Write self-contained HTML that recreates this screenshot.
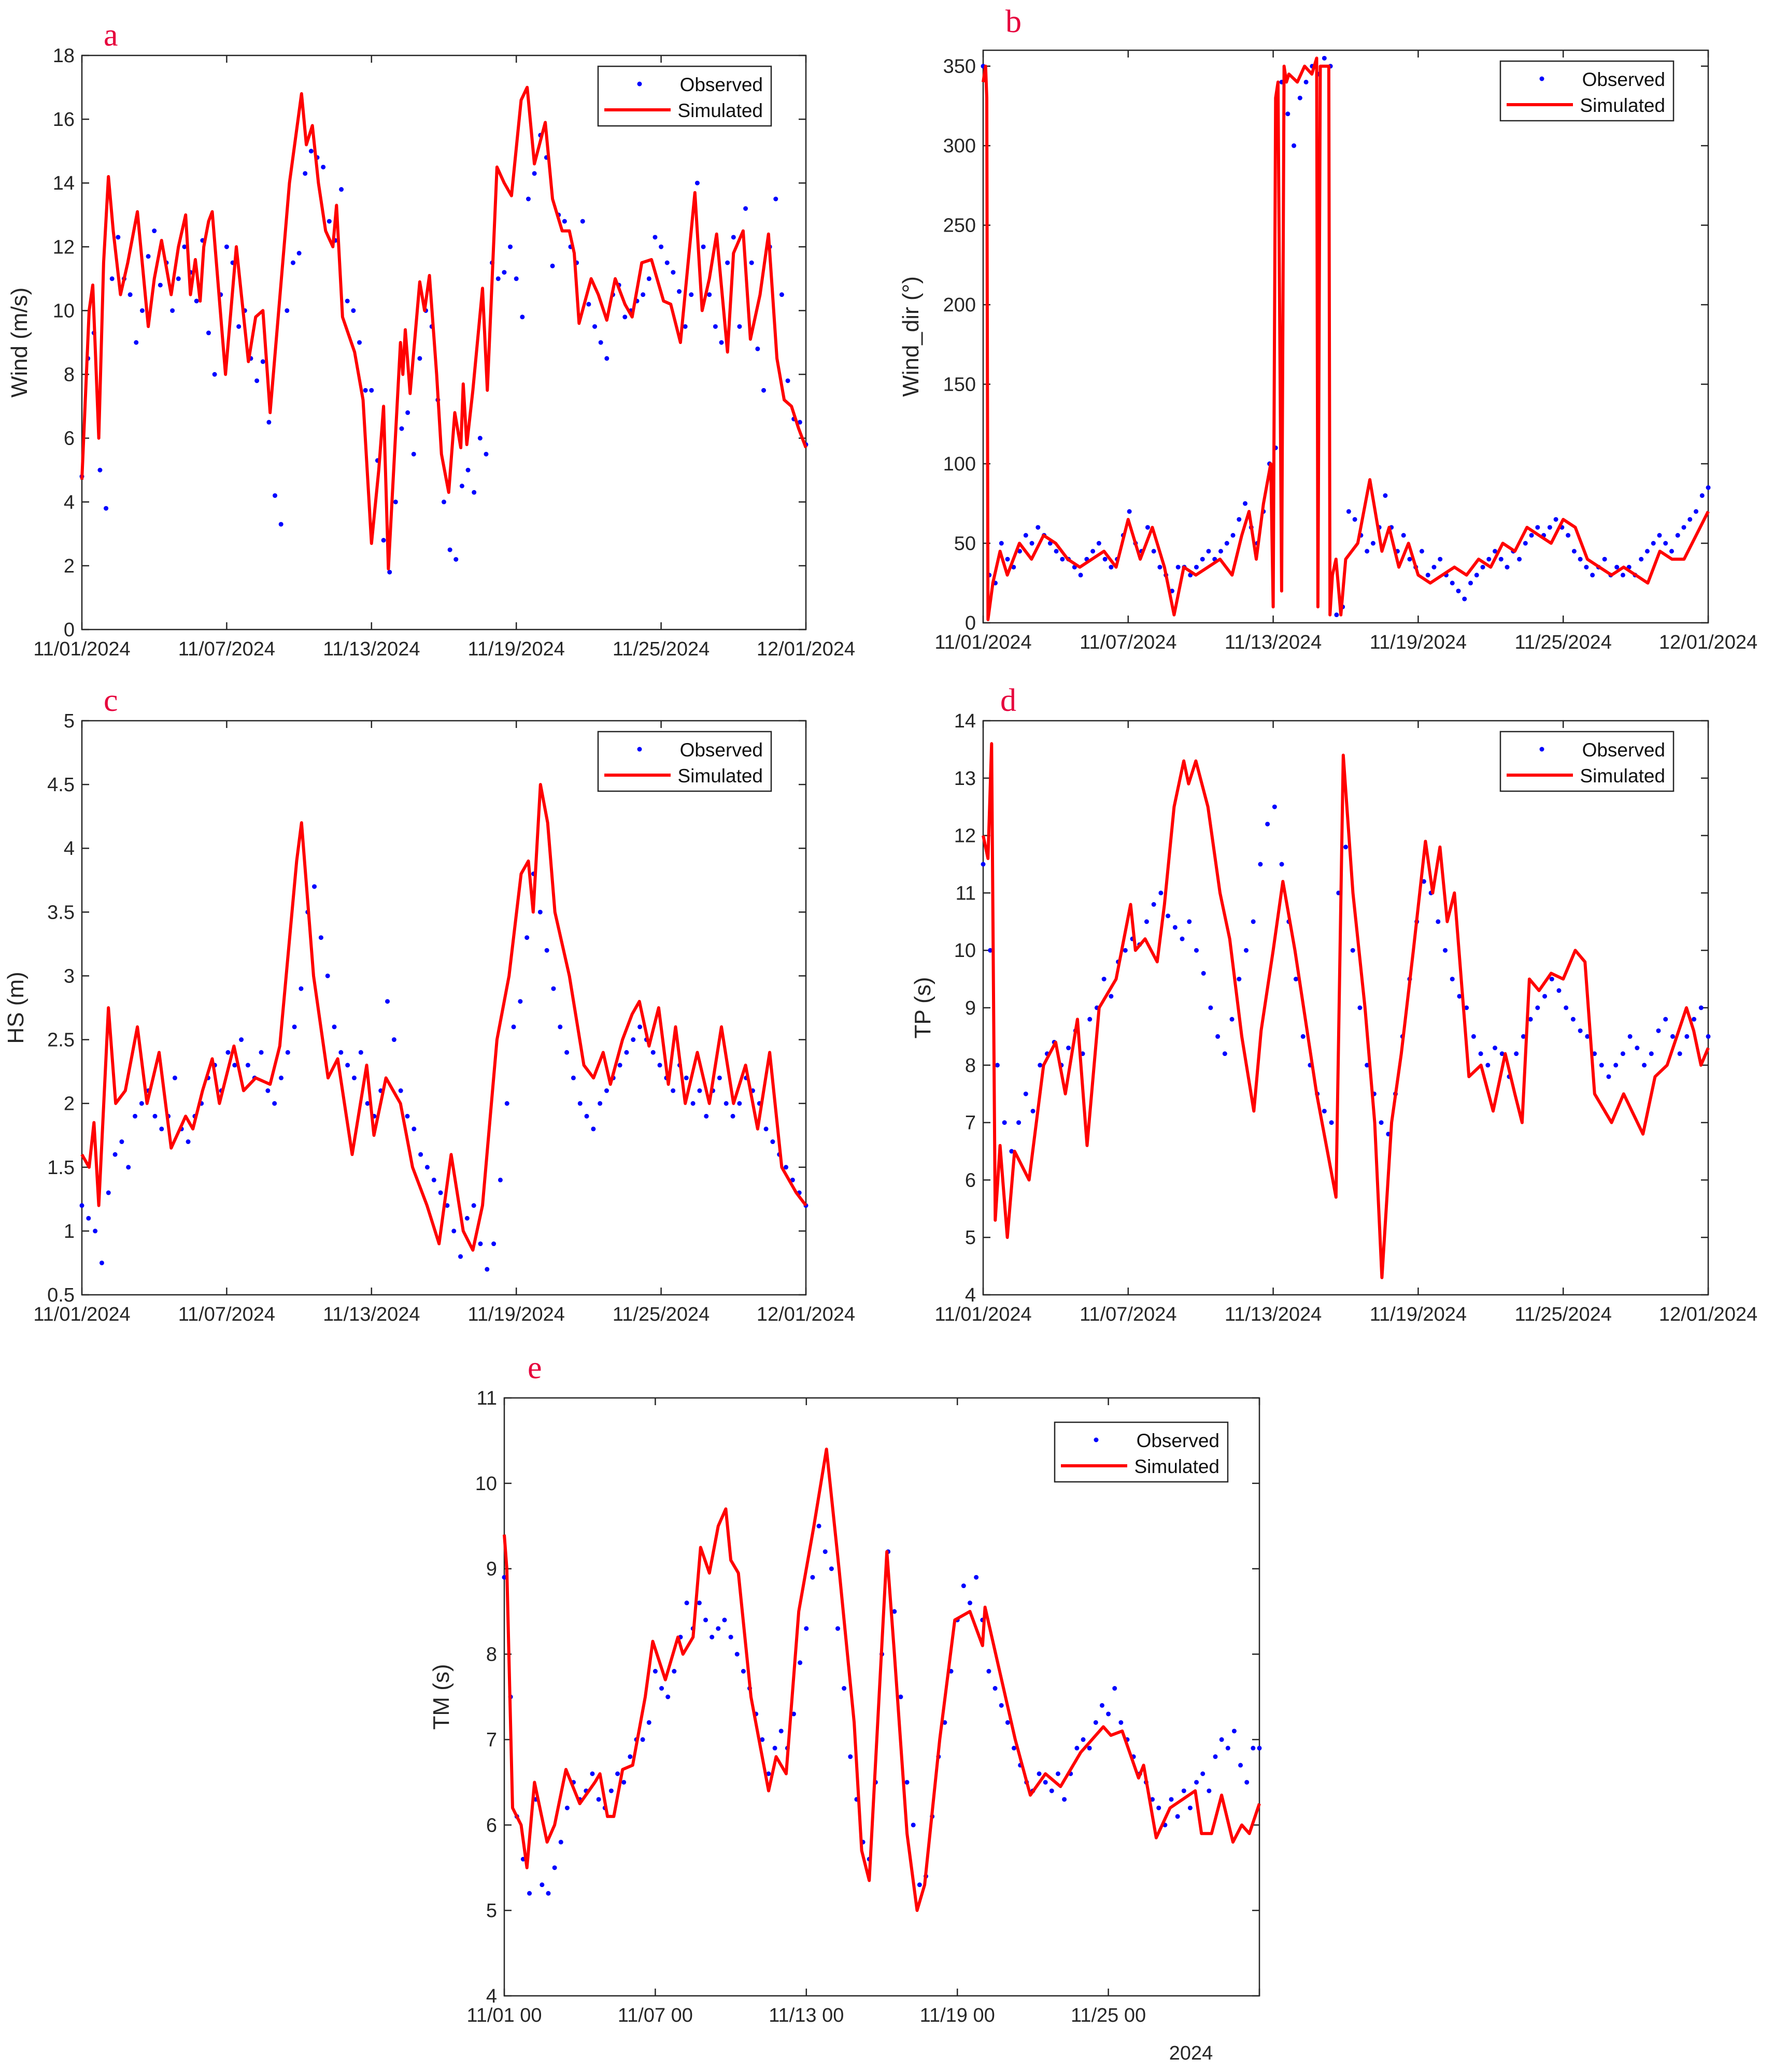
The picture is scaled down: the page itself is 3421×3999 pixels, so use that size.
<!DOCTYPE html>
<html><head><meta charset="utf-8"><style>
html,body{margin:0;padding:0;background:#fff;}
svg{display:block;font-family:"Liberation Sans",Arial,sans-serif;}
</style></head><body>
<svg id="fig" width="3421" height="3999" viewBox="0 0 3421 3999" xmlns="http://www.w3.org/2000/svg"></svg>
<script>
// ---------- data ----------
const aSimT=[0,0.3,0.45,0.7,0.9,1.1,1.3,1.6,1.9,2.3,2.75,3.0,3.3,3.7,4.0,4.3,4.5,4.7,4.9,5.05,5.25,5.4,5.95,6.4,6.9,7.2,7.5,7.8,8.3,8.6,9.1,9.3,9.55,9.8,10.1,10.4,10.55,10.8,11.3,11.65,12.0,12.3,12.5,12.7,13.2,13.3,13.4,13.6,14.0,14.2,14.4,14.7,14.9,15.2,15.45,15.7,15.8,15.95,16.2,16.6,16.8,17.2,17.5,17.8,18.2,18.45,18.75,19.2,19.5,19.9,20.2,20.4,20.6,21.1,21.4,21.75,22.1,22.5,22.8,23.2,23.6,24.1,24.4,24.8,25.4,25.7,26.0,26.3,26.75,27.0,27.4,27.7,28.1,28.45,28.8,29.1,29.4,29.7,30];
const aSimV=[4.7,10.0,10.8,6.0,11.5,14.2,12.5,10.5,11.5,13.1,9.5,11.0,12.2,10.5,12.0,13.0,10.5,11.6,10.3,12.0,12.8,13.1,8.0,12.0,8.4,9.8,10.0,6.8,11.3,14.0,16.8,15.2,15.8,14.0,12.5,12.0,13.3,9.8,8.7,7.2,2.7,5.0,7.0,1.9,9.0,8.0,9.4,7.4,10.9,10.0,11.1,8.0,5.5,4.3,6.8,5.7,7.7,5.8,7.5,10.7,7.5,14.5,14.0,13.6,16.6,17.0,14.6,15.9,13.5,12.5,12.5,11.8,9.6,11.0,10.5,9.7,11.0,10.2,9.8,11.5,11.6,10.3,10.2,9.0,13.7,10.0,11.0,12.4,8.7,11.8,12.5,9.1,10.5,12.4,8.5,7.2,7.0,6.3,5.7];
const aObs=[4.8,8.5,9.3,5,3.8,11,12.3,11,10.5,9,10,11.7,12.5,10.8,11.5,10,11,12,11.2,10.3,12.2,9.3,8,10.5,12,11.5,9.5,10,8.5,7.8,8.4,6.5,4.2,3.3,10,11.5,11.8,14.3,15,14.8,14.5,12.8,12.2,13.8,10.3,10,9,7.5,7.5,5.3,2.8,1.8,4,6.3,6.8,5.5,8.5,10,9.5,7.2,4,2.5,2.2,4.5,5,4.3,6,5.5,11.5,11,11.2,12,11,9.8,13.5,14.3,15.5,14.8,11.4,13,12.8,12,11.5,12.8,10.2,9.5,9,8.5,10.5,10.8,9.8,10,10.3,10.5,11,12.3,12,11.5,11.2,10.6,9.5,10.5,14,12,10.5,9.5,9,11.5,12.3,9.5,13.2,11.5,8.8,7.5,12,13.5,10.5,7.8,6.6,6.5,5.8];

const bSimT=[0,0.1,0.15,0.2,0.4,0.7,1.0,1.5,2.0,2.5,3.0,3.5,4.0,4.5,5.0,5.5,6.0,6.5,7.0,7.5,7.9,8.3,8.8,9.3,9.8,10.3,10.7,11.0,11.3,11.6,11.9,12.0,12.1,12.2,12.35,12.45,12.55,12.65,13.0,13.3,13.6,13.8,13.85,13.95,14.3,14.35,14.45,14.6,14.8,15.0,15.5,16.0,16.5,16.8,17.2,17.6,18.0,18.5,19.0,19.5,20.0,20.5,21.0,21.5,22.0,22.5,23.0,23.5,24.0,24.5,25.0,25.5,26.0,26.5,27.0,27.5,28.0,28.5,29.0,29.5,30];
const bSimV=[340,350,330,2,25,45,30,50,40,55,50,40,35,40,45,35,65,40,60,35,5,35,30,35,40,30,55,70,40,75,100,10,330,340,20,350,340,345,340,350,345,355,10,350,350,5,30,40,5,40,50,90,45,60,35,50,30,25,30,35,30,40,35,50,45,60,55,50,65,60,40,35,30,35,30,25,45,40,40,55,70];
const bObs=[350,30,25,50,40,35,45,55,50,60,55,50,45,40,40,35,30,40,45,50,40,35,40,55,70,50,45,60,45,35,30,20,35,35,30,35,40,45,40,45,50,55,65,75,60,50,70,100,110,340,320,300,330,340,350,345,355,350,5,10,70,65,55,45,50,60,80,60,45,55,40,35,45,30,35,40,30,25,20,15,25,30,35,40,45,40,35,45,40,50,55,60,55,60,65,60,55,45,40,35,30,35,40,30,35,30,35,30,40,45,50,55,50,45,55,60,65,70,80,85];

const cSimT=[0,0.3,0.5,0.7,1.1,1.4,1.8,2.3,2.7,3.2,3.7,4.3,4.6,5.0,5.4,5.7,6.3,6.7,7.2,7.8,8.2,8.9,9.1,9.6,10.2,10.6,11.2,11.8,12.1,12.6,13.2,13.7,14.3,14.8,15.3,15.8,16.2,16.6,17.2,17.7,18.2,18.5,18.7,19.0,19.3,19.6,20.2,20.8,21.2,21.6,21.9,22.4,22.8,23.1,23.5,23.9,24.3,24.6,25.0,25.5,26.0,26.5,27.0,27.5,28.0,28.5,29.0,29.6,30];
const cSimV=[1.6,1.5,1.85,1.2,2.75,2.0,2.1,2.6,2.0,2.4,1.65,1.9,1.8,2.1,2.35,2.0,2.45,2.1,2.2,2.15,2.45,3.9,4.2,3.0,2.2,2.35,1.6,2.3,1.75,2.2,2.0,1.5,1.2,0.9,1.6,1.0,0.85,1.2,2.5,3.0,3.8,3.9,3.5,4.5,4.2,3.5,3.0,2.3,2.2,2.4,2.15,2.5,2.7,2.8,2.45,2.75,2.15,2.6,2.0,2.4,2.0,2.6,2.0,2.3,1.8,2.4,1.5,1.3,1.2];
const cObs=[1.2,1.1,1.0,0.75,1.3,1.6,1.7,1.5,1.9,2.0,2.1,1.9,1.8,1.9,2.2,1.8,1.7,1.9,2.0,2.2,2.3,2.1,2.4,2.3,2.5,2.3,2.2,2.4,2.1,2.0,2.2,2.4,2.6,2.9,3.5,3.7,3.3,3.0,2.6,2.4,2.3,2.2,2.4,2.0,1.9,2.1,2.8,2.5,2.1,1.9,1.8,1.6,1.5,1.4,1.3,1.2,1.0,0.8,1.1,1.2,0.9,0.7,0.9,1.4,2.0,2.6,2.8,3.3,3.8,3.5,3.2,2.9,2.6,2.4,2.2,2.0,1.9,1.8,2.0,2.1,2.2,2.3,2.4,2.5,2.6,2.5,2.4,2.3,2.2,2.1,2.3,2.2,2.0,2.1,1.9,2.1,2.2,2.0,1.9,2.0,2.2,2.1,2.0,1.8,1.7,1.6,1.5,1.4,1.3,1.2];

const dSimT=[0,0.2,0.35,0.5,0.7,1.0,1.3,1.9,2.5,3.0,3.4,3.9,4.3,4.8,5.5,6.1,6.3,6.7,7.2,7.5,7.9,8.3,8.5,8.8,9.3,9.8,10.2,10.7,11.2,11.5,12.0,12.4,12.9,13.8,14.6,14.9,15.3,15.8,16.2,16.5,16.9,17.3,17.8,18.3,18.6,18.9,19.2,19.5,20.1,20.6,21.1,21.6,22.0,22.3,22.6,23.0,23.5,24.0,24.5,24.9,25.3,26.0,26.5,27.3,27.8,28.3,28.7,29.1,29.4,29.7,30];
const dSimV=[12,11.6,13.6,5.3,6.6,5.0,6.5,6.0,8.0,8.4,7.5,8.8,6.6,9.0,9.5,10.8,10.0,10.2,9.8,10.8,12.5,13.3,12.9,13.3,12.5,11.0,10.2,8.5,7.2,8.6,10.0,11.2,10.0,7.5,5.7,13.4,11.0,9.0,7.0,4.3,7.0,8.2,10.0,11.9,11.0,11.8,10.5,11.0,7.8,8.0,7.2,8.2,7.5,7.0,9.5,9.3,9.6,9.5,10.0,9.8,7.5,7.0,7.5,6.8,7.8,8.0,8.5,9.0,8.6,8.0,8.3];
const dObs=[11.5,10,8,7,6.5,7,7.5,7.2,8,8.2,8.4,8,8.3,8.6,8.2,8.8,9,9.5,9.2,9.8,10,10.2,10.1,10.5,10.8,11,10.6,10.4,10.2,10.5,10,9.6,9,8.5,8.2,8.8,9.5,10,10.5,11.5,12.2,12.5,11.5,10.5,9.5,8.5,8,7.5,7.2,7,11,11.8,10,9,8,7.5,7,6.8,7.5,8.5,9.5,10.5,11.2,11,10.5,10,9.5,9.2,9,8.5,8.2,8,8.3,8.2,7.8,8.2,8.5,8.8,9,9.2,9.5,9.3,9,8.8,8.6,8.5,8.2,8,7.8,8,8.2,8.5,8.3,8,8.2,8.6,8.8,8.5,8.2,8.5,8.8,9,8.5];

const eSimT=[0,0.1,0.33,0.67,0.9,1.2,1.7,2.0,2.45,3.0,3.6,3.8,4.1,4.35,4.7,5.1,5.6,5.9,6.4,6.9,7.1,7.5,7.8,8.15,8.5,8.8,9.0,9.3,9.8,10.5,10.8,11.2,11.7,12.3,12.8,13.3,13.9,14.2,14.5,15.2,15.5,16.0,16.4,16.7,17.3,17.9,18.5,19.0,19.1,20.3,20.9,21.5,22.1,22.9,23.8,24.1,24.55,25.2,25.4,25.9,26.45,27.45,27.7,28.1,28.5,28.95,29.3,29.6,30];
const eSimV=[9.4,9.0,6.2,6.0,5.5,6.5,5.8,6.0,6.65,6.25,6.5,6.6,6.1,6.1,6.65,6.7,7.5,8.15,7.7,8.2,8.0,8.2,9.25,8.95,9.5,9.7,9.1,8.95,7.5,6.4,6.8,6.6,8.5,9.5,10.4,9.0,7.2,5.7,5.35,9.2,8.0,5.9,5.0,5.3,7.0,8.4,8.5,8.1,8.55,7.0,6.35,6.6,6.45,6.85,7.15,7.05,7.1,6.55,6.7,5.85,6.2,6.4,5.9,5.9,6.35,5.8,6.0,5.9,6.25];
const eObs=[8.9,7.5,6.1,5.6,5.2,6.3,5.3,5.2,5.5,5.8,6.2,6.5,6.3,6.4,6.6,6.3,6.2,6.4,6.6,6.5,6.8,7.0,7.0,7.2,7.8,7.6,7.5,7.8,8.2,8.6,8.3,8.6,8.4,8.2,8.3,8.4,8.2,8.0,7.8,7.6,7.3,7.0,6.6,6.9,7.1,6.9,7.3,7.9,8.3,8.9,9.5,9.2,9.0,8.3,7.6,6.8,6.3,5.8,5.6,6.5,8.0,9.2,8.5,7.5,6.5,6.0,5.3,5.4,6.1,6.8,7.2,7.8,8.4,8.8,8.6,8.9,8.4,7.8,7.6,7.4,7.2,6.9,6.7,6.5,6.4,6.6,6.5,6.4,6.6,6.3,6.6,6.9,7.0,6.9,7.2,7.4,7.3,7.6,7.2,7.0,6.8,6.6,6.5,6.3,6.2,6.0,6.3,6.1,6.4,6.2,6.5,6.6,6.4,6.8,7.0,6.9,7.1,6.7,6.5,6.9,6.9];

const aYTicks=[0,2,4,6,8,10,12,14,16,18];
const bYTicks=[0,50,100,150,200,250,300,350];
const cYTicks=[0.5,1,1.5,2,2.5,3,3.5,4,4.5,5];
const dYTicks=[4,5,6,7,8,9,10,11,12,13,14];
const eYTicks=[4,5,6,7,8,9,10,11];
const xTickDays=[0,6,12,18,24,30];
const xTickLabels=["11/01/2024","11/07/2024","11/13/2024","11/19/2024","11/25/2024","12/01/2024"];
const eXTickLabels=["11/01 00","11/07 00","11/13 00","11/19 00","11/25 00",""];

// ---------- drawing ----------
const NS="http://www.w3.org/2000/svg";
const svg=document.getElementById('fig');
function mk(tag,attrs,parent){const e=document.createElementNS(NS,tag);for(const k in attrs)e.setAttribute(k,attrs[k]);(parent||svg).appendChild(e);return e;}

const panels=[
 {id:'a',L:158,R:1555,T:107,B:1215,ymin:0,ymax:18,yt:aYTicks,st:aSimT,sv:aSimV,ob:aObs,xl:xTickLabels,ylab:'Wind (m/s)',ylx:52,leg:[1154,128],letter:[200,88]},
 {id:'b',L:1897,R:3296,T:97,B:1202,ymin:0,ymax:360,yt:bYTicks,st:bSimT,sv:bSimV,ob:bObs,xl:xTickLabels,ylab:'Wind_dir (°)',ylx:1772,leg:[2895,118],letter:[1940,62]},
 {id:'c',L:158,R:1555,T:1391,B:2499,ymin:0.5,ymax:5,yt:cYTicks,st:cSimT,sv:cSimV,ob:cObs,xl:xTickLabels,ylab:'HS (m)',ylx:45,leg:[1154,1412],letter:[200,1372]},
 {id:'d',L:1897,R:3296,T:1391,B:2499,ymin:4,ymax:14,yt:dYTicks,st:dSimT,sv:dSimV,ob:dObs,xl:xTickLabels,ylab:'TP (s)',ylx:1795,leg:[2895,1412],letter:[1930,1372]},
 {id:'e',L:973,R:2430,T:2698,B:3852,ymin:4,ymax:11,yt:eYTicks,st:eSimT,sv:eSimV,ob:eObs,xl:eXTickLabels,ylab:'TM (s)',ylx:866,leg:[2035,2745],letter:[1018,2660]}
];

panels.forEach(p=>{
  const g=mk('g',{});
  
  
  const xs=d=>p.L+(d/30)*(p.R-p.L);
  const ys=v=>p.B-(v-p.ymin)/(p.ymax-p.ymin)*(p.B-p.T);
  const fr=mk('rect',{x:p.L,y:p.T,width:p.R-p.L,height:p.B-p.T,fill:'#fff',stroke:'#262626','stroke-width':2.5},g);
  
  
  p.yt.forEach(v=>{
    const y=ys(v);
    mk('line',{x1:p.L,x2:p.L+14,y1:y,y2:y,stroke:'#262626','stroke-width':2.5},g);
    mk('line',{x1:p.R,x2:p.R-14,y1:y,y2:y,stroke:'#262626','stroke-width':2.5},g);
    const t=mk('text',{x:p.L-14,y:y+13,'text-anchor':'end','font-size':38,fill:'#262626'},g);
    t.textContent=String(v);
    
    
  });
  xTickDays.forEach((d,i)=>{
    const x=xs(d);
    mk('line',{x1:x,x2:x,y1:p.B,y2:p.B-14,stroke:'#262626','stroke-width':2.5},g);
    mk('line',{x1:x,x2:x,y1:p.T,y2:p.T+14,stroke:'#262626','stroke-width':2.5},g);
    if(p.xl[i]){
      const t=mk('text',{x:x,y:p.B+50,'text-anchor':'middle','font-size':38,fill:'#262626'},g);
      t.textContent=p.xl[i];
      
      
    }
  });
  const yl=mk('text',{x:p.ylx,y:(p.T+p.B)/2,'text-anchor':'middle','font-size':44,fill:'#262626',transform:`rotate(-90 ${p.ylx} ${(p.T+p.B)/2})`},g);
  yl.textContent=p.ylab;
  
  
  const lt=mk('text',{x:p.letter[0],y:p.letter[1],'font-size':62,'font-family':'"Liberation Serif",serif',fill:'#e6003c'},g);
  lt.textContent=p.id;
  
  
  const og=mk('g',{fill:'#0000ff'},g);
  
  
  const n=p.ob.length;
  p.ob.forEach((v,i)=>{
    const c=mk('circle',{cx:xs(i*30/(n-1)),cy:ys(v),r:4.5},og);
    
    
  });
  const pts=p.st.map((d,i)=>xs(d).toFixed(1)+','+ys(p.sv[i]).toFixed(1)).join(' ');
  const pl=mk('polyline',{points:pts,fill:'none',stroke:'#ff0000','stroke-width':6,'stroke-linejoin':'round'},g);
  
  
  const lx=p.leg[0],ly=p.leg[1];
  const lg=mk('g',{},g);
  
  
  mk('rect',{x:lx,y:ly,width:334,height:115,fill:'#fff',stroke:'#262626','stroke-width':2.5},lg);
  const ld=mk('circle',{cx:lx+80,cy:ly+34,r:4.5,fill:'#0000ff'},lg);
  
  
  const t1=mk('text',{x:lx+318,y:ly+48,'text-anchor':'end','font-size':37,fill:'#111'},lg);
  t1.textContent='Observed';
  
  
  mk('line',{x1:lx+12,x2:lx+140,y1:ly+84,y2:ly+84,stroke:'#ff0000','stroke-width':6},lg);
  const t2=mk('text',{x:lx+318,y:ly+98,'text-anchor':'end','font-size':37,fill:'#111'},lg);
  t2.textContent='Simulated';
  
  
});
const yr=mk('text',{x:2298,y:3975,'text-anchor':'middle','font-size':38,fill:'#262626'});
yr.textContent='2024';


</script>
</body></html>
